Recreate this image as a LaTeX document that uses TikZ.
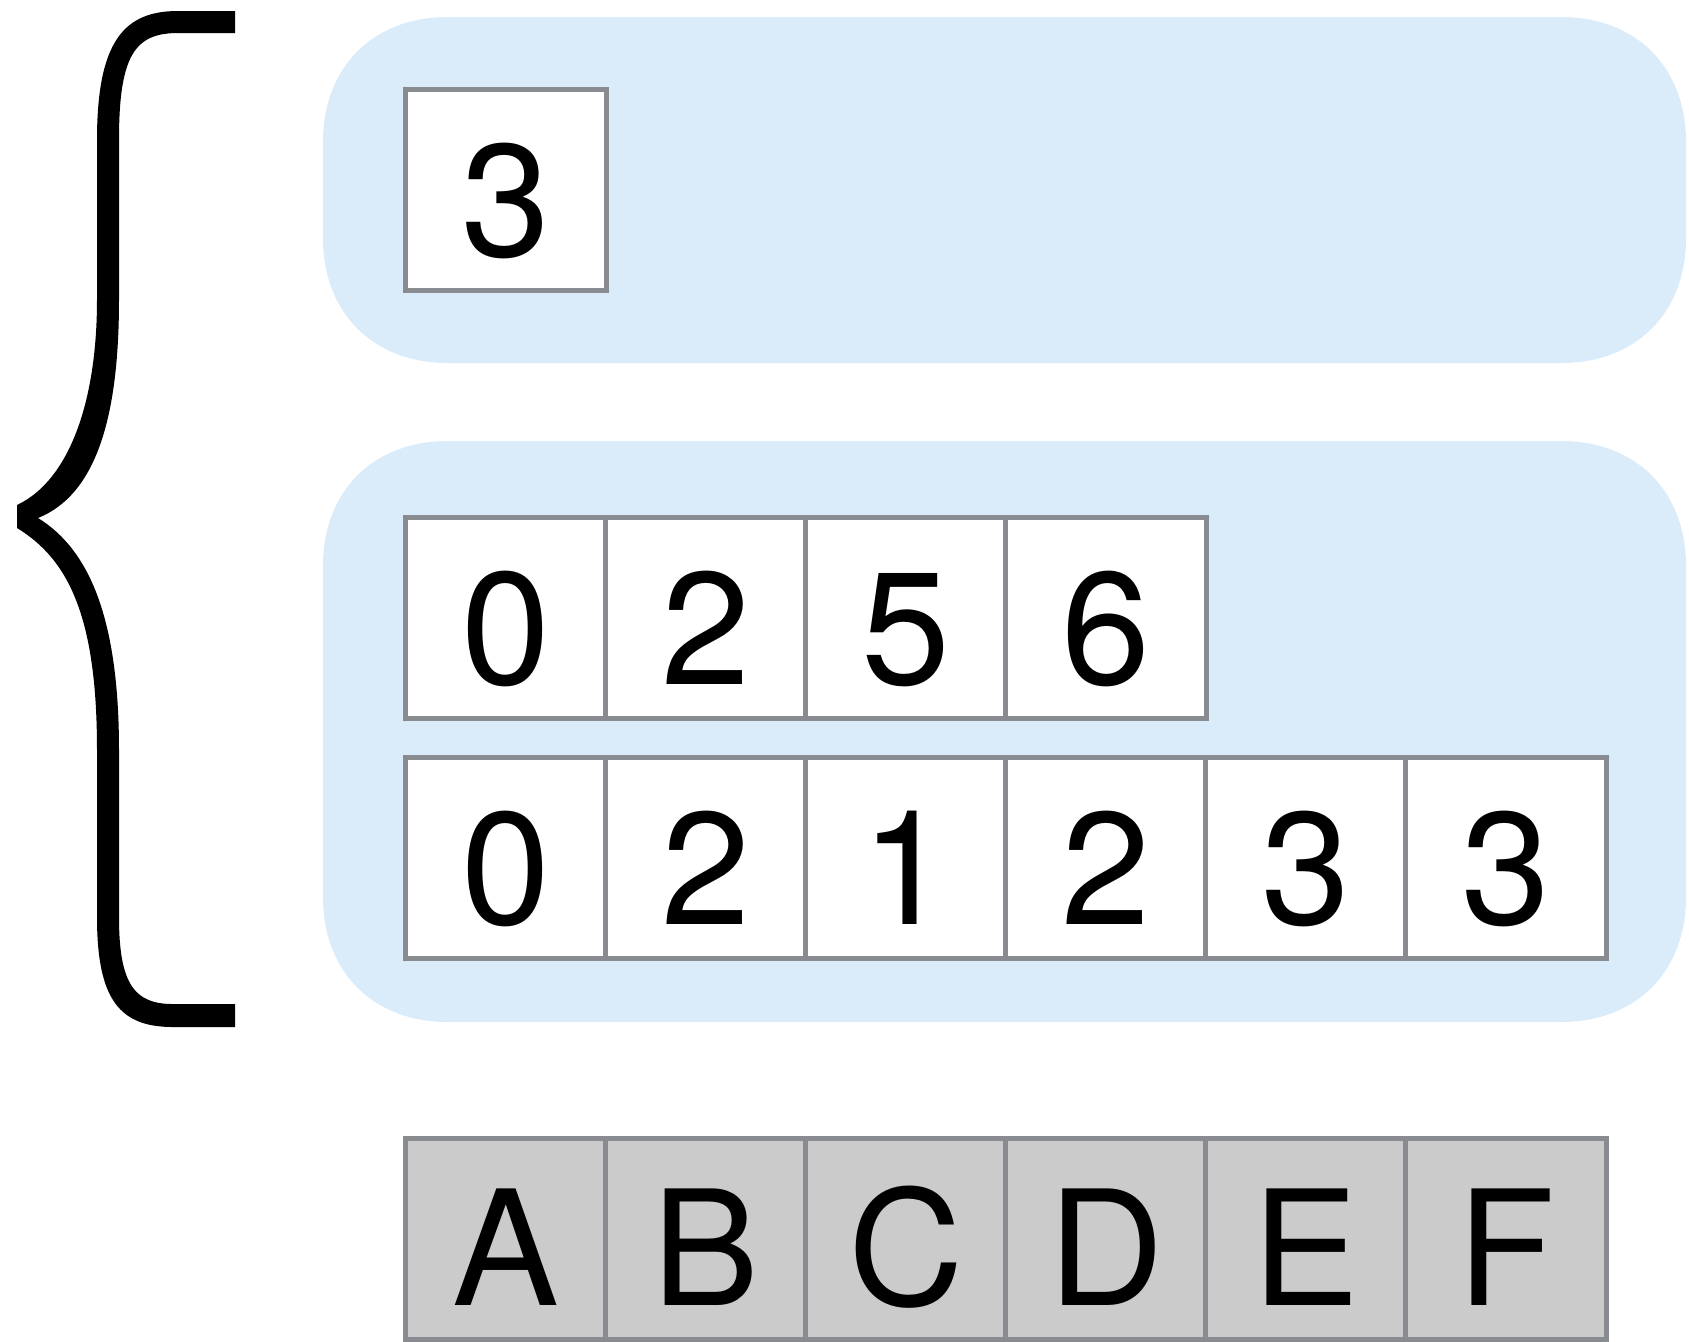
\documentclass[tikz,border=0pt]{standalone}
\usepackage{fontspec}
\setmainfont{TeX Gyre Heros}
\definecolor{panelblue}{RGB}{218,235,250}
\definecolor{cellgray}{RGB}{203,203,203}
\definecolor{cellborder}{RGB}{136,140,145}
\newcommand{\squirclepath}[4]{% x0,y0,x1,y1 in px; E=125, kE=50
  (#1,#2+125) .. controls (#1,#2+50) and (#1+50,#2) .. (#1+125,#2)
  -- (#3-125,#2) .. controls (#3-50,#2) and (#3,#2+50) .. (#3,#2+125)
  -- (#3,#4-125) .. controls (#3,#4-50) and (#3-50,#4) .. (#3-125,#4)
  -- (#1+125,#4) .. controls (#1+50,#4) and (#1,#4-50) .. (#1,#4-125)
  -- cycle}
\begin{document}
\begin{tikzpicture}[x=0.01cm,y=-0.01cm,
  cell/.style={draw=cellborder, line width=0.05cm, fill=white,
    minimum width=2cm, minimum height=2cm, inner sep=0pt,
    text height=1.32cm, text depth=0pt, font=\fontsize{45.5}{50}\selectfont},
  graycell/.style={cell, fill=cellgray},
  panel/.style={fill=panelblue}]
\useasboundingbox (0,0) rectangle (1689,1341);
% panels
\fill[panel] \squirclepath{323}{17}{1686}{363};
\fill[panel] \squirclepath{323}{441}{1686}{1022};
% brace
\fill[black] (235,11) -- (178,11) .. controls (125,11) and (97,40) .. (97,140)
  -- (97,300) .. controls (97,400) and (70,480) .. (17,505)
  -- (17,528) .. controls (70,560) and (97,620) .. (97,750)
  -- (97,917) .. controls (97,1000) and (120,1027) .. (173,1027)
  -- (235,1027) -- (235,1004) -- (173,1004)
  .. controls (135,1004) and (119,985) .. (119,917)
  -- (119,750) .. controls (119,620) and (90,550) .. (38,518)
  .. controls (95,495) and (119,420) .. (119,300)
  -- (119,140) .. controls (119,55) and (135,33) .. (178,33)
  -- (235,33) -- cycle;
% top cell
\node[cell] (t1) at (506,190) {3};
% row 1
\foreach \t [count=\i from 0] in {0,2,5,6}
  \node[cell] (a\i) at (506+200*\i,618) {\t};
% row 2
\foreach \t [count=\i from 0] in {0,2,1,2,3,3}
  \node[cell] (b\i) at (506+200*\i,858) {\t};
% gray row
\foreach \t [count=\i from 0] in {A,B,C,D,E,F}
  \node[graycell] (c\i) at (506+200*\i,1239) {\t};
\end{tikzpicture}
\end{document}
